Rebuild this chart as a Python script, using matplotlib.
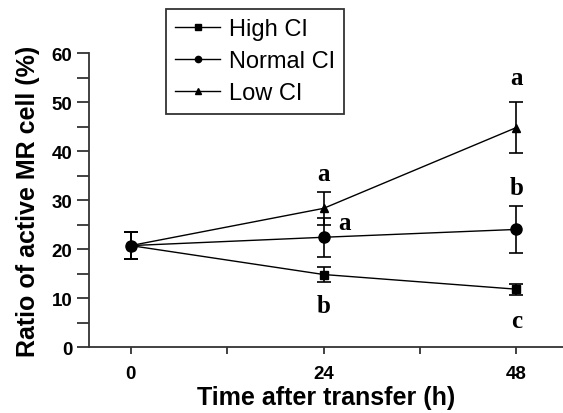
import numpy as np
import matplotlib.pyplot as plt
from matplotlib.ticker import MultipleLocator

# Data
hours = [0, 24, 48]
high_ci = [20.7, 14.8, 11.8]
high_err = [2.7, 1.5, 1.1]
normal_ci = [20.7, 22.4, 24.0]
normal_err = [2.7, 4.0, 4.8]
low_ci = [20.7, 28.3, 44.8]
low_err = [2.7, 3.4, 5.3]

# significance letters: (x, y, letter)
sig_x = [48, 48, 48, 24, 26.6, 24]
sig_y = [55, 32.5, 5.5, 35.5, 25.5, 8.5]
sig_txt = ['a', 'b', 'c', 'a', 'a', 'b']

plt.rcParams['font.family'] = ['Liberation Sans', 'DejaVu Sans']

fig = plt.figure(figsize=(5.63, 4.14), dpi=100)
ax = fig.add_axes([0.158, 0.1594, 0.842, 0.710])

series = [
    ('High CI', high_ci, high_err, 's', 6),
    ('Normal CI', normal_ci, normal_err, 'o', 8),
    ('Low CI', low_ci, low_err, '^', 5.5),
]
for label, vals, errs, mk, ms in series:
    ax.errorbar(hours, vals, yerr=errs, color='black', marker=mk, markersize=ms,
                linewidth=1, elinewidth=1.2, capsize=5, capthick=1.2, label=label)

for x, y, t in zip(sig_x, sig_y, sig_txt):
    ax.text(x, y, t, ha='center', va='center', fontsize=18, fontweight='bold',
            family='Liberation Serif')

ax.set_xlim(-5.2, 53.8)
ax.set_ylim(0, 60)
ax.set_xticks(hours)
ax.xaxis.set_minor_locator(MultipleLocator(12))
ax.yaxis.set_major_locator(MultipleLocator(10))
ax.yaxis.set_minor_locator(MultipleLocator(5))
for s in ['top', 'right']:
    ax.spines[s].set_visible(False)
for s in ['left', 'bottom']:
    ax.spines[s].set_color('#333333')
    ax.spines[s].set_linewidth(1.3)
ax.tick_params(axis='y', which='both', direction='out', length=9, width=1.3,
               colors='#333333', labelcolor='black', labelsize=13.5, pad=3)
ax.tick_params(axis='x', which='both', direction='out', length=5, width=1.3,
               colors='#333333', labelcolor='black', labelsize=13.5, pad=8)
for lab in ax.get_xticklabels() + ax.get_yticklabels():
    lab.set_fontweight('bold')

ax.set_xlabel('Time after transfer (h)', fontsize=18, fontweight='bold', labelpad=2)
ax.set_ylabel('Ratio of active MR cell (%)', fontsize=18, fontweight='bold', labelpad=8)

leg = fig.legend(handles=[plt.Line2D([], [], color='black', marker=m, markersize=4.5, linewidth=1)
                          for _, _, _, m, _ in series],
                 labels=[s[0] for s in series],
                 loc='upper left', bbox_to_anchor=(166 / 563, 1 - 10 / 414),
                 borderaxespad=0, fontsize=17, frameon=True, fancybox=False,
                 handlelength=1.9, handletextpad=0.35, borderpad=0.4, labelspacing=0.42)
leg.get_frame().set_edgecolor('black')
leg.get_frame().set_linewidth(1.3)

fig.savefig('out.png', dpi=100)
